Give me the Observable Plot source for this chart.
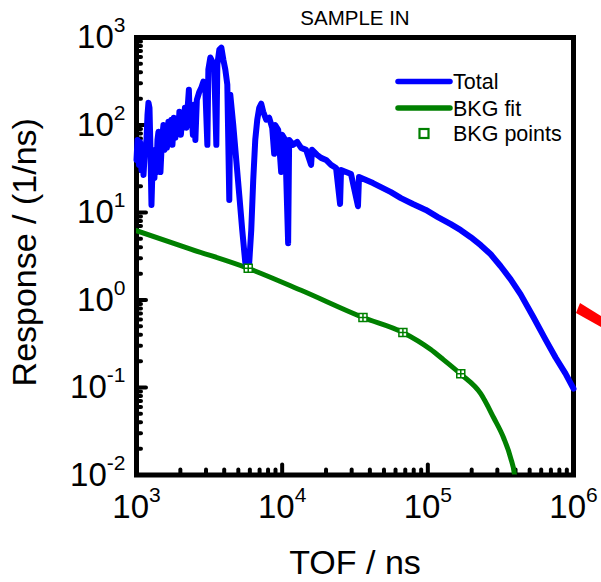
<!DOCTYPE html>
<html><head><meta charset="utf-8">
<script src="https://cdn.jsdelivr.net/npm/d3@7"></script>
<script src="https://cdn.jsdelivr.net/npm/@observablehq/plot@0.6"></script>
<style>
html,body{margin:0;padding:0;background:#fff;}
#wrap{position:relative;width:601px;height:582px;overflow:hidden;}
</style></head><body><div id="wrap"></div>
<script>
// ---- data ----
const totalTOF = [1000,1016,1040,1057,1082,1099,1117,1144,1171,1190,
  1208,1228,1247,1267,1287,1307,1328,1349,1371,1393,
  1415,1437,1460,1495,1531,1555,1580,1618,1657,1696,
  1737,1765,1806,1850,1894,1940,1970,2017,2066,2099,
  2149,2200,2235,2289,2325,2381,2438,2496,2536,2596,
  2701,2788,2877,2970,3065,3114,3213,3316,3423,3532,
  3589,3704,3823,3945,4072,4202,4335,4405,4616,4840,
  5076,5321,5580,5758,5943,6134,6329,6535,6745,6960,
  7182,7412,7770,8147,8543,8815,8958,9389,9844,10000,
  10485,10990,11166,11895,12669,13497,14600,15800,16050,17370,
  18500,20020,21660,23440,24970,25360,27440,29700,33150,33690,
  37620,42020,47650,55800,65350,78950,96900,117100,143700,168300,
  197000,230700,270100,316200,370300,433500,532100,643000,753000,881500,
  1000000];
const totalResp = [39.9,67.6,35.0,64.1,30.6,54.8,26.9,52.0,67.6,131,
  180,157,52.0,12.2,30.6,42.1,24.8,52.0,29.0,67.6,
  83.6,52.0,29.0,67.6,100,52.0,88.2,54.8,109,67.6,
  115,59.3,121,71.3,115,83.6,142,77.2,131,92.9,
  157,92.9,142,253,100,149,77.2,171,67.6,194,
  240,267,313,253,59.3,430,590,531,407,59.3,
  490,728,767,560,430,289,13.9,222,100,39.9,
  15.8,6.28,2.70,2.30,2.70,6.28,23.5,67.6,115,157,
  175,142,115,121,92.9,46.8,100,88.2,29.0,77.2,
  67.6,4.46,67.6,59.3,64.1,54.8,52.0,35.0,52.0,45.5,
  42.1,39.9,35.0,32.3,12.5,30.6,29.0,27.5,11.8,25.5,
  23.5,21.7,19.5,17.1,14.6,12.5,10.7,8.86,7.36,6.28,
  5.22,4.23,3.33,2.43,1.72,1.16,0.631,0.353,0.220,0.144,
  0.097];
const fitTOF = [1000,2381,5848,13490,35870,67430,104800,122700,168300,230700,283300,331600,370100,394500,400700];
const fitResp = [6.2,3.80,2.30,1.29,0.631,0.425,0.271,0.220,0.142,0.0849,0.0451,0.0265,0.0157,0.00975,0.006];
const bkgTOF = [5848,35870,67430,168300];
const bkgResp = [2.30,0.631,0.425,0.144];
const xDecades = [1e3,1e4,1e5,1e6];
const yDecades = [1e-2,1e-1,1,10,100,1000];
const minorSteps = [2,3,4,5,6,7,8,9];
const legendLabels = ["Total","BKG fit","BKG points"];
const titleText = "SAMPLE IN";
const xLabel = "TOF / ns";
const yLabel = "Response / (1/ns)";

// ---- layout ----
const W = 601, H = 582, mL = 136, mR = 28, mT = 37, mB = 107.5;
const innerW = W - mL - mR, innerH = H - mT - mB;
const font = "Arial, 'Liberation Sans', sans-serif";
const BLUE = "#0000ff", GREEN = "#008000";

const total = totalTOF.map((x, i) => ({x, y: totalResp[i]}));
const fit = fitTOF.map((x, i) => ({x, y: fitResp[i]}));
const bkg = bkgTOF.map((x, i) => ({x, y: bkgResp[i]}));
const xMinor = xDecades.slice(0, -1).flatMap(d => minorSteps.map(m => d * m));
const yMinor = yDecades.slice(0, -1).flatMap(d => minorSteps.map(m => d * m));

const windowSquare = {
  draw(ctx, size) {
    const h = Math.sqrt(size / Math.PI);
    ctx.moveTo(-h, -h); ctx.lineTo(h, -h); ctx.lineTo(h, h); ctx.lineTo(-h, h); ctx.closePath();
    ctx.moveTo(-h, 0); ctx.lineTo(h, 0);
    ctx.moveTo(0, -h); ctx.lineTo(0, h);
  }
};
const expFmt = d => "10^" + Math.round(Math.log10(d));
const tickStyle = {stroke: "black", strokeWidth: 4, strokeLinecap: "round"};

const chart = Plot.plot({
  width: W, height: H,
  marginLeft: mL, marginRight: mR, marginTop: mT, marginBottom: mB,
  style: {fontFamily: font, background: "white", color: "black", overflow: "visible"},
  x: {type: "log", domain: [1e3, 1e6]},
  y: {type: "log", domain: [1e-2, 1e3]},
  marks: [
    Plot.frame({stroke: "black", strokeWidth: 5}),
    Plot.ruleX(xMinor, {x: d => d, insetTop: innerH - 5, ...tickStyle}),
    Plot.ruleX(xDecades.slice(1, -1), {x: d => d, insetTop: innerH - 10, ...tickStyle}),
    Plot.ruleY(yMinor, {y: d => d, insetRight: innerW - 5, ...tickStyle}),
    Plot.ruleY(yDecades.slice(1, -1), {y: d => d, insetRight: innerW - 10, ...tickStyle}),
    Plot.axisX(xDecades, {anchor: "bottom", tickSize: 0, tickPadding: 20, fontSize: 33, tickFormat: expFmt, label: null}),
    Plot.axisY(yDecades, {anchor: "left", tickSize: 0, tickPadding: 11, fontSize: 33, tickFormat: expFmt, label: null}),
    Plot.line(fit, {x: "x", y: "y", stroke: GREEN, strokeWidth: 5, curve: "monotone-x", clip: true}),
    Plot.line(total, {x: "x", y: "y", stroke: BLUE, strokeWidth: 6, strokeLinejoin: "round", strokeLinecap: "round"}),
    Plot.dot(bkg, {x: "x", y: "y", symbol: windowSquare, r: 4, stroke: GREEN, strokeWidth: 1.5, fill: "white"}),
    Plot.text([titleText], {text: d => d, frameAnchor: "top", textAnchor: "middle", lineAnchor: "middle", dy: -19.5, fontSize: 20.5}),
    Plot.text([xLabel], {text: d => d, frameAnchor: "bottom", textAnchor: "middle", lineAnchor: "middle", dy: 88.5, fontSize: 34}),
    Plot.text([yLabel], {text: d => d, frameAnchor: "left", textAnchor: "middle", lineAnchor: "middle", dx: -111, dy: -4, rotate: -90, fontSize: 34})
  ]
});

// superscript exponents in tick labels
const NS = "http://www.w3.org/2000/svg";
chart.querySelectorAll('g[aria-label="x-axis tick label"] text, g[aria-label="y-axis tick label"] text').forEach(t => {
  const m = t.textContent.match(/^10\^(-?\d+)$/);
  if (!m) return;
  t.textContent = "10";
  const ts = document.createElementNS(NS, "tspan");
  ts.setAttribute("font-size", "21");
  ts.setAttribute("dy", "-16");
  ts.textContent = m[1];
  t.appendChild(ts);
});

// legend inside the plot area (top right)
const g = d3.select(chart).append("g").attr("font-family", font).attr("font-size", 21.5).attr("text-anchor", "start");
const legRows = [81.5, 108, 133.5];
const legKinds = ["line", "line", "square"];
const legColors = [BLUE, GREEN, GREEN];
legendLabels.forEach((lab, i) => {
  const y = legRows[i];
  if (legKinds[i] === "line") {
    g.append("line").attr("x1", 398).attr("x2", 450).attr("y1", y).attr("y2", y)
      .attr("stroke", legColors[i]).attr("stroke-width", 5.5).attr("stroke-linecap", "round");
  } else {
    g.append("rect").attr("x", 419.5).attr("y", y - 4.5).attr("width", 9).attr("height", 9)
      .attr("fill", "white").attr("stroke", legColors[i]).attr("stroke-width", 2.2);
  }
  g.append("text").attr("x", 453).attr("y", y).attr("dy", "0.35em")
    .attr("text-anchor", "start").attr("fill", "black").text(lab);
});
// clipped fragment of a red arrow at the right edge
d3.select(chart).append("polygon").attr("points", "580,303 601,316 601,327 576,313").attr("fill", "#ff0000");

document.getElementById("wrap").appendChild(chart);
</script>
</body></html>
